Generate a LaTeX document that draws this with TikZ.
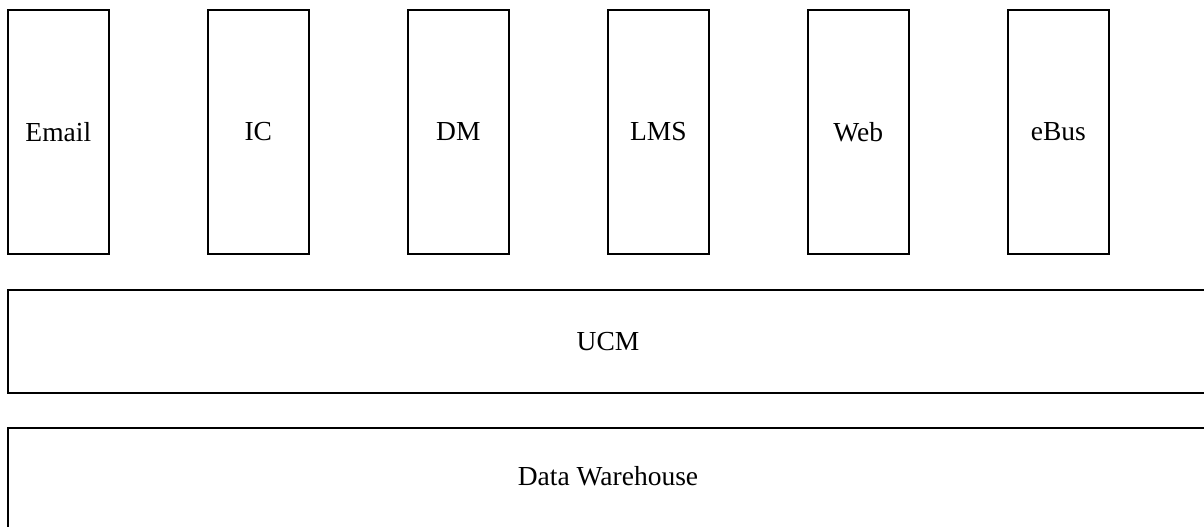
\documentclass[tikz,border=0pt]{standalone}
\usepackage{fontspec}
\setmainfont{Liberation Serif}
\begin{document}
\begin{tikzpicture}[x=1pt,y=-1pt,
  appbox/.style={draw=black, line width=2pt, rectangle, minimum width=100.5pt, minimum height=244.8pt, inner sep=0pt, font=\fontsize{27.5}{33}\selectfont},
  layerbox/.style={draw=black, line width=2pt, rectangle, minimum width=1200pt, minimum height=102.7pt, inner sep=0pt, font=\fontsize{27.5}{33}\selectfont}]
\clip (0,0) rectangle (1204,527);
\fill[white] (0,0) rectangle (1204,527);
\node[appbox] (email) at (58.3,132) {Email};
\node[appbox] (ic) at (258.3,132) {IC};
\node[appbox] (dm) at (458.3,132) {DM};
\node[appbox] (lms) at (658.3,132) {LMS};
\node[appbox] (web) at (858.3,132) {Web};
\node[appbox] (ebus) at (1058.3,132) {eBus};
\node[layerbox] (ucm) at (608,341.3) {UCM};
\node[layerbox, text depth=6pt] (dw) at (608,479) {Data Warehouse};
\end{tikzpicture}
\end{document}
